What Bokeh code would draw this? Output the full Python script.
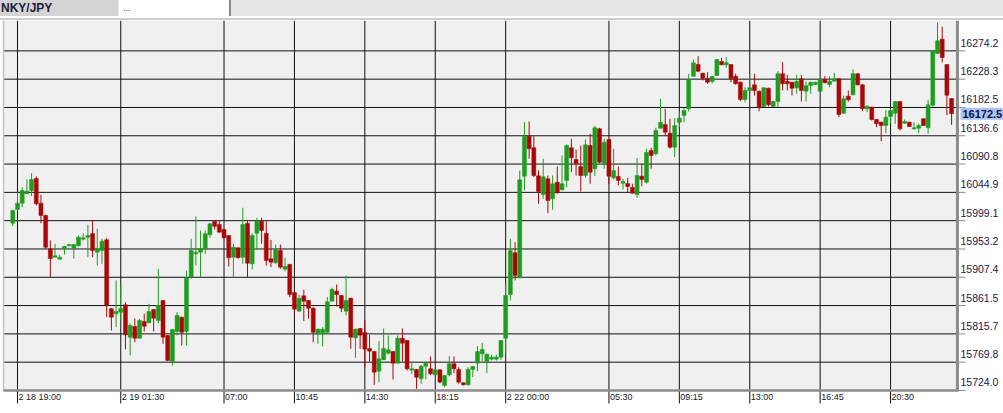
from bokeh.plotting import figure
from bokeh.models import ColumnDataSource, Label, Div, Range1d
from bokeh.layouts import column
from bokeh.embed import file_html
from bokeh.resources import INLINE
from bokeh.core.properties import value

# ---------------- data (15-minute bars, NKY/JPY) ----------------
bar_index = list(range(-1, 200))

open_ = [
    15995.0, 16017.2, 16027.4, 16042.7, 16048.0, 16067.4, 16027.4, 16007.5, 15953.6, 15940.0,
    15936.7, 15954.0, 15958.4, 15954.9, 15958.4, 15969.1, 15972.3, 15978.3, 15948.1, 15950.8,
    15968.1, 15856.4, 15848.3, 15850.9, 15862.8, 15810.3, 15827.7, 15808.7, 15835.8, 15833.7,
    15855.2, 15837.4, 15869.8, 15813.1, 15771.5, 15819.6, 15842.8, 15819.6, 15907.5, 15945.5,
    15948.1, 15953.6, 15976.2, 15997.8, 15992.9, 15984.8, 15975.1, 15940.0, 15955.2, 15940.0,
    15995.0, 15929.3, 15978.8, 15998.3, 15978.8, 15937.4, 15930.9, 15950.8, 15920.5, 15928.1,
    15882.8, 15852.5, 15877.4, 15869.8, 15857.3, 15815.9, 15815.9, 15818.4, 15868.7, 15884.9,
    15877.9, 15852.5, 15873.5, 15809.4, 15824.4, 15818.0, 15792.0, 15787.2, 15755.3, 15773.7,
    15784.4, 15787.2, 15768.2, 15808.7, 15805.0, 15756.9, 15758.0, 15743.0, 15763.4, 15759.2,
    15749.4, 15757.5, 15732.1, 15749.4, 15767.3, 15758.0, 15736.5, 15733.2, 15758.0, 15768.2,
    15783.5, 15771.0, 15774.7, 15774.7, 15778.0, 15808.7, 15879.5, 15947.1, 15906.6, 16071.2,
    16136.0, 16117.2, 16071.8, 16041.5, 16067.0, 16034.6, 16061.4, 16049.1, 16064.2, 16117.2,
    16098.2, 16086.9, 16072.3, 16120.9, 16083.2, 16148.0, 16091.3, 16130.6, 16068.6, 16070.7,
    16059.8, 16059.3, 16052.9, 16041.5, 16071.2, 16061.4, 16112.8, 16107.5, 16148.9, 16154.9,
    16140.8, 16118.2, 16158.6, 16169.5, 16180.4, 16233.2, 16252.1, 16238.0, 16229.9, 16224.6,
    16234.3, 16257.0, 16251.6, 16252.1, 16233.2, 16223.4, 16195.4, 16210.0, 16219.2, 16208.9,
    16184.1, 16213.7, 16184.1, 16192.2, 16237.1, 16225.1, 16223.4, 16214.4, 16229.0, 16208.9,
    16218.1, 16219.7, 16208.9, 16227.8, 16219.7, 16225.1, 16229.0, 16173.2, 16200.8, 16203.0,
    16237.1, 16219.2, 16180.4, 16183.0, 16163.0, 16158.6, 16153.3, 16167.9, 16173.2, 16192.2,
    16157.0, 16158.6, 16148.0, 16148.9, 16164.2, 16149.6, 16186.2, 16269.9, 16293.1, 16252.1,
    16197.0,
]

high = [
    16017.2, 16045.2, 16053.3, 16065.8, 16076.0, 16070.7, 16041.0, 16009.1, 15967.0, 15961.7,
    15943.8, 15958.1, 15961.7, 15961.3, 15975.1, 15978.8, 15992.4, 15999.4, 15986.0, 15970.2,
    15970.7, 15857.7, 15902.2, 15894.1, 15867.0, 15832.5, 15840.6, 15840.1, 15848.3, 15864.4,
    15856.0, 15921.2, 15870.6, 15813.9, 15823.6, 15850.9, 15843.6, 15918.4, 15969.8, 16005.9,
    15983.2, 15983.2, 15994.9, 15999.4, 15999.4, 15985.6, 15975.9, 15961.7, 15955.7, 16020.0,
    15999.4, 15978.8, 16003.8, 16003.8, 15998.3, 15968.1, 15960.5, 15960.5, 15939.0, 15929.3,
    15883.6, 15879.0, 15887.1, 15870.6, 15859.0, 15824.1, 15826.6, 15875.2, 15890.4, 15895.7,
    15878.7, 15910.3, 15874.3, 15824.1, 15825.2, 15837.4, 15813.6, 15788.0, 15803.9, 15824.4,
    15813.1, 15788.0, 15813.1, 15824.4, 15805.8, 15768.9, 15758.8, 15765.6, 15769.0, 15779.1,
    15758.0, 15758.0, 15749.1, 15779.6, 15779.1, 15761.7, 15737.0, 15761.7, 15763.7, 15795.8,
    15801.3, 15783.6, 15781.8, 15781.8, 15805.8, 15896.9, 15969.8, 15964.3, 16080.4, 16158.6,
    16159.8, 16136.0, 16080.4, 16099.4, 16072.3, 16072.3, 16086.9, 16104.7, 16122.5, 16131.8,
    16114.4, 16120.9, 16130.6, 16139.9, 16152.8, 16149.6, 16131.8, 16131.4, 16115.6, 16086.9,
    16067.0, 16068.6, 16058.9, 16101.0, 16091.3, 16115.6, 16117.2, 16149.6, 16196.6, 16180.4,
    16164.2, 16165.1, 16176.0, 16181.3, 16237.1, 16260.2, 16265.6, 16238.8, 16239.6, 16233.5,
    16261.0, 16263.0, 16264.0, 16252.9, 16237.1, 16224.3, 16215.3, 16237.1, 16237.1, 16209.7,
    16215.2, 16214.5, 16193.0, 16241.3, 16255.9, 16235.4, 16224.3, 16235.4, 16235.4, 16224.6,
    16224.3, 16224.3, 16228.6, 16233.2, 16232.7, 16238.7, 16229.8, 16201.9, 16210.0, 16244.0,
    16237.9, 16220.0, 16185.7, 16183.8, 16163.8, 16159.5, 16178.7, 16180.4, 16193.0, 16193.0,
    16163.0, 16159.5, 16158.6, 16156.1, 16165.0, 16194.9, 16275.1, 16320.2, 16313.2, 16252.9,
    16197.9,
]

low = [
    15990.2, 16015.6, 16020.9, 16042.7, 16038.8, 16023.7, 15995.0, 15953.6, 15907.5, 15940.0,
    15936.7, 15944.3, 15957.3, 15937.8, 15957.3, 15967.0, 15940.0, 15940.0, 15926.5, 15929.3,
    15842.8, 15821.2, 15826.6, 15837.4, 15790.4, 15780.7, 15802.2, 15807.7, 15819.6, 15833.7,
    15819.6, 15833.0, 15799.7, 15771.8, 15764.5, 15813.1, 15796.9, 15796.9, 15905.0, 15926.5,
    15907.5, 15945.5, 15971.4, 15984.8, 15980.0, 15970.2, 15924.9, 15907.5, 15937.8, 15929.3,
    15906.6, 15920.0, 15952.4, 15961.7, 15926.5, 15923.8, 15929.3, 15921.2, 15916.8, 15875.2,
    15849.2, 15852.0, 15836.3, 15840.2, 15802.2, 15799.7, 15795.3, 15815.9, 15868.2, 15860.1,
    15850.9, 15845.5, 15791.6, 15777.0, 15791.6, 15761.7, 15771.0, 15733.2, 15737.5, 15773.4,
    15782.3, 15741.8, 15767.3, 15771.0, 15756.4, 15751.1, 15726.8, 15734.9, 15741.8, 15748.8,
    15748.3, 15735.8, 15729.4, 15746.7, 15752.0, 15734.9, 15732.1, 15731.6, 15745.5, 15755.3,
    15771.0, 15752.0, 15772.6, 15772.6, 15773.7, 15783.5, 15869.8, 15902.2, 15905.8, 16048.0,
    16099.4, 16069.6, 16026.5, 16034.6, 16011.2, 16016.7, 16042.7, 16048.3, 16053.3, 16077.7,
    16072.3, 16046.4, 16068.6, 16058.9, 16071.2, 16092.2, 16083.2, 16058.9, 16065.8, 16056.1,
    16049.6, 16045.2, 16043.1, 16036.2, 16055.0, 16059.8, 16083.2, 16104.7, 16148.1, 16136.0,
    16115.6, 16102.0, 16150.6, 16158.6, 16176.0, 16232.7, 16239.6, 16226.2, 16220.9, 16221.8,
    16233.5, 16250.8, 16246.8, 16223.4, 16219.7, 16192.7, 16191.0, 16209.2, 16201.9, 16176.5,
    16183.3, 16184.1, 16183.0, 16183.0, 16210.0, 16210.0, 16201.9, 16204.7, 16192.2, 16192.2,
    16204.7, 16218.9, 16207.3, 16221.7, 16215.3, 16224.6, 16166.8, 16172.3, 16192.2, 16202.2,
    16218.1, 16176.5, 16174.9, 16161.4, 16150.6, 16127.9, 16140.8, 16157.0, 16156.1, 16145.2,
    16156.1, 16150.9, 16146.3, 16140.8, 16152.5, 16139.9, 16183.6, 16269.1, 16255.4, 16170.0,
    16154.4,
]

close = [
    16015.6, 16027.4, 16048.0, 16046.9, 16065.8, 16026.5, 16007.5, 15956.1, 15937.8, 15942.2,
    15940.0, 15957.3, 15960.5, 15960.5, 15972.3, 15971.4, 15975.1, 15950.8, 15953.6, 15965.9,
    15861.7, 15842.8, 15852.0, 15856.8, 15814.2, 15829.3, 15808.7, 15837.4, 15828.2, 15852.0,
    15841.1, 15861.7, 15810.3, 15772.6, 15822.8, 15845.5, 15818.4, 15905.9, 15950.8, 15948.1,
    15953.6, 15977.9, 15994.1, 15990.2, 15980.4, 15971.4, 15939.0, 15956.1, 15939.0, 15992.9,
    15930.2, 15975.1, 15998.3, 15983.2, 15934.6, 15931.9, 15952.4, 15923.8, 15924.9, 15879.5,
    15855.7, 15873.5, 15868.7, 15857.3, 15818.4, 15823.3, 15823.3, 15867.7, 15887.6, 15879.5,
    15857.3, 15869.8, 15810.3, 15823.3, 15813.6, 15790.9, 15787.7, 15753.6, 15775.4, 15792.0,
    15789.9, 15768.2, 15808.7, 15800.6, 15759.2, 15759.2, 15745.5, 15763.4, 15768.2, 15751.1,
    15757.5, 15737.5, 15748.3, 15767.3, 15759.2, 15737.5, 15733.2, 15758.0, 15762.9, 15787.2,
    15790.4, 15782.8, 15778.0, 15778.0, 15805.0, 15877.9, 15950.8, 15910.3, 16065.3, 16135.5,
    16115.6, 16072.3, 16046.4, 16070.2, 16031.8, 16058.9, 16044.3, 16058.9, 16120.9, 16101.0,
    16091.3, 16072.3, 16122.0, 16077.7, 16149.6, 16093.8, 16126.2, 16071.2, 16080.4, 16064.2,
    16062.6, 16054.5, 16043.6, 16072.3, 16065.8, 16110.0, 16104.7, 16145.2, 16158.6, 16142.4,
    16118.2, 16153.3, 16165.1, 16177.6, 16227.8, 16254.9, 16241.3, 16229.9, 16223.4, 16232.7,
    16260.2, 16251.6, 16254.9, 16229.0, 16220.9, 16195.4, 16210.0, 16214.4, 16210.0, 16182.0,
    16214.4, 16186.8, 16192.2, 16237.1, 16220.9, 16220.9, 16213.7, 16224.6, 16210.0, 16218.1,
    16223.4, 16223.4, 16227.8, 16222.5, 16225.1, 16229.0, 16171.1, 16196.6, 16194.9, 16237.1,
    16219.2, 16180.4, 16184.6, 16163.0, 16156.1, 16153.3, 16166.8, 16177.6, 16192.2, 16148.0,
    16159.8, 16151.7, 16149.6, 16153.3, 16153.3, 16186.8, 16274.3, 16290.5, 16263.5, 16202.4,
    16172.5,
]

xtick_idx = [0, 22, 44, 59, 74, 89, 104, 126, 141, 156, 171, 186]
xtick_labels = ["2 18 19:00", "2 19 01:30", "07:00", "10:45", "14:30", "18:15",
                "2 22 00:00", "05:30", "09:15", "13:00", "16:45", "20:30"]

ytick_values = [15724.0, 15769.85, 15815.7, 15861.55, 15907.4, 15953.25, 15999.1,
                16044.95, 16090.8, 16136.65, 16182.5, 16228.35, 16274.2]
ytick_labels = ["15724.0", "15769.8", "15815.7", "15861.5", "15907.4", "15953.2", "15999.1",
                "16044.9", "16090.8", "16136.6", "16182.5", "16228.3", "16274.2"]

last_price = 16172.5
symbol = "NKY/JPY"

# ---------------- layout / styling ----------------
GREEN = "#1f9c1f"
RED = "#a80808"
FONT = "Liberation Sans"

X0, X1 = -3.62, 210.06            # full canvas width in bar units
Y0, Y1 = 15686.7, 16323.4         # full canvas height in price units
PLOT_L, PLOT_R = -2.98, 200.25    # edges of the price pane
PLOT_B = 15724.0                  # bottom edge of the price pane
PX_Y = 1.6201                     # price units per pixel
PX_X = 1.0 / 4.694                # bar units per pixel

n = min(len(bar_index), len(open_), len(high), len(low), len(close))
colors = [GREEN if close[k] >= open_[k] else RED for k in range(n)]
src = ColumnDataSource(dict(
    x=bar_index[:n], h=high[:n], l=low[:n],
    top=[max(open_[k], close[k]) for k in range(n)],
    bottom=[min(open_[k], close[k]) for k in range(n)],
    color=colors,
))

W = 1003
TAB_H = 20
H = 413 - TAB_H

p = figure(width=W, height=H, x_range=Range1d(X0, X1), y_range=Range1d(Y0, Y1),
           x_axis_location=None, y_axis_location=None,
           output_backend="svg", toolbar_location=None, tools="",
           background_fill_color="white", border_fill_color="white",
           min_border_left=0, min_border_right=0, min_border_top=0, min_border_bottom=0,
           outline_line_color=None)
for g in p.grid:
    g.visible = False

# price pane background
p.quad(left=PLOT_L, right=PLOT_R, bottom=PLOT_B, top=Y1,
       fill_color="#f0f0f0", line_color=None)

# grid lines (vertical ones run down through the time-label strip as tick marks)
p.segment(x0=xtick_idx, x1=xtick_idx, y0=PLOT_B - 13 * PX_Y, y1=Y1,
          line_color="#111111", line_width=1)
p.segment(x0=PLOT_L, x1=PLOT_R, y0=ytick_values, y1=ytick_values,
          line_color="#111111", line_width=1)
p.segment(x0=PLOT_R, x1=PLOT_R + 8 * PX_X, y0=ytick_values, y1=ytick_values,
          line_color="#8c8c8c", line_width=1)

# candles
p.segment(x0="x", y0="l", x1="x", y1="h", line_color="color", line_width=1, source=src)
p.vbar(x="x", width=0.85, top="top", bottom="bottom", fill_color="color",
       line_color="color", line_width=0.5, source=src)

# pane borders
p.segment(x0=PLOT_L, x1=PLOT_L, y0=PLOT_B, y1=Y1, line_color="#c4c4c4", line_width=1.5)
p.segment(x0=PLOT_L, x1=PLOT_R, y0=PLOT_B, y1=PLOT_B, line_color="#8c8c8c", line_width=2.5)
p.segment(x0=PLOT_R, x1=PLOT_R, y0=PLOT_B - 1 * PX_Y, y1=Y1, line_color="#8c8c8c", line_width=3)

# price labels: sit just above their grid line
p.text(x=PLOT_R, y=[v + 8 * PX_Y for v in ytick_values], text=ytick_labels,
       x_offset=3, text_align="left", text_baseline="middle",
       text_font=value(FONT), text_font_size="10.5px", text_color="#1a1a46")

# time labels: left-aligned at their tick
p.text(x=xtick_idx, y=PLOT_B - 6.5 * PX_Y, text=xtick_labels,
       x_offset=1, text_align="left", text_baseline="middle",
       text_font=value(FONT), text_font_size="9px", text_color="#202028")

# current price marker
p.add_layout(Label(x=PLOT_R, y=last_price, text=f"{last_price:.1f}", x_offset=3,
                   text_align="left", text_baseline="middle", padding=2,
                   text_font=FONT, text_font_size="11px", text_font_style="bold",
                   text_color="#10104a", background_fill_color="#a9c4ef"))

tab = Div(text=(
    '<div style="position:relative;width:1003px;height:20px;background:#ffffff;'
    'font-family:\'Liberation Sans\',sans-serif;overflow:hidden;">'
    '<div style="position:absolute;left:0;top:0;width:1003px;height:16px;background:#e6e6e6;"></div>'
    '<div style="position:absolute;left:0;top:0;width:118px;height:16px;background:#d4d4d4;'
    'font-weight:bold;font-size:12px;line-height:16px;color:#1c1c3c;padding-left:1px;">'
    + symbol + '</div>'
    '<div style="position:absolute;left:119px;top:0;width:112px;height:16px;background:#ffffff;'
    'border-right:2px solid #888888;font-size:9px;line-height:16px;color:#333333;padding-left:4px;">'
    '...</div>'
    '<div style="position:absolute;left:0;top:18px;width:1003px;height:2px;background:#cdcdcd;"></div>'
    '</div>'), width=W, height=TAB_H, margin=0)

layout = column(tab, p, spacing=0)
open("out.html", "w").write(file_html(layout, INLINE))
